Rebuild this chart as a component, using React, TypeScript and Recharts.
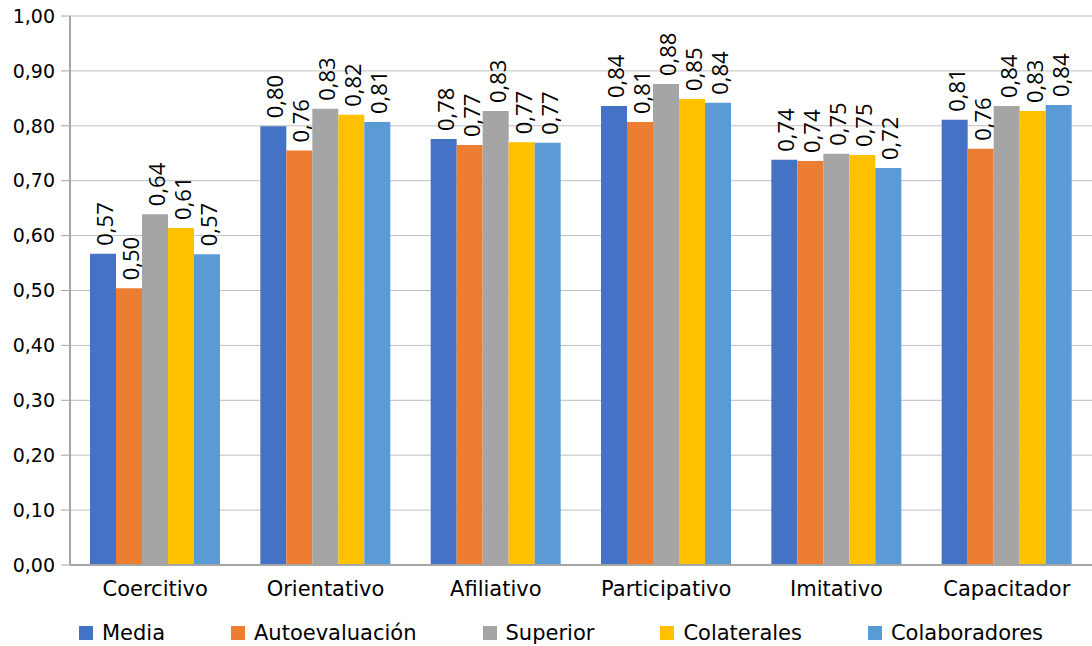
import React from 'react';
import { BarChart, Bar, XAxis, YAxis, CartesianGrid, Legend, LabelList } from 'recharts';

const categories = ['Coercitivo', 'Orientativo', 'Afiliativo', 'Participativo', 'Imitativo', 'Capacitador'];

const media = [0.567, 0.799, 0.776, 0.836, 0.738, 0.811];
const autoevaluacion = [0.504, 0.755, 0.765, 0.807, 0.736, 0.758];
const superior = [0.639, 0.831, 0.827, 0.876, 0.749, 0.836];
const colaterales = [0.614, 0.82, 0.77, 0.849, 0.747, 0.827];
const colaboradores = [0.566, 0.807, 0.769, 0.842, 0.723, 0.838];

const yTicks = [0, 0.1, 0.2, 0.3, 0.4, 0.5, 0.6, 0.7, 0.8, 0.9, 1];

const SERIES = [
  { key: 'media', name: 'Media', color: '#4472C4', values: media },
  { key: 'auto', name: 'Autoevaluación', color: '#ED7D31', values: autoevaluacion },
  { key: 'superior', name: 'Superior', color: '#A5A5A5', values: superior },
  { key: 'colaterales', name: 'Colaterales', color: '#FFC000', values: colaterales },
  { key: 'colaboradores', name: 'Colaboradores', color: '#5B9BD5', values: colaboradores },
];

const data = categories.map((cat, i) => {
  const row: Record<string, string | number> = { cat };
  SERIES.forEach((s) => {
    row[s.key] = s.values[i];
  });
  return row;
});

const AXIS_FONT = '"DejaVu Sans", Verdana, sans-serif';

const fmt = (v: number) => v.toFixed(2).replace('.', ',');

// vertical value label sitting just above each bar
function VerticalLabel(props: any) {
  const { x, y, width, value } = props;
  const cx = Number(x) + Number(width) / 2 + 1;
  const cy = Number(y) - 8;
  return (
    <text
      x={cx}
      y={cy}
      transform={`rotate(-90, ${cx}, ${cy})`}
      textAnchor="start"
      dominantBaseline="central"
      fontFamily='"Open Sans", sans-serif'
      fontSize={22}
      fill="#000"
    >
      {fmt(Number(value))}
    </text>
  );
}

function LegendContent() {
  return (
    <div
      style={{
        display: 'flex',
        justifyContent: 'center',
        gap: 66,
        paddingLeft: 30,
        paddingTop: 14,
        height: 26,
        fontFamily: AXIS_FONT,
        fontSize: 21,
        color: '#000',
      }}
    >
      {SERIES.map((s) => (
        <div key={s.key} style={{ display: 'flex', alignItems: 'center', whiteSpace: 'nowrap' }}>
          <span style={{ width: 14, height: 14, background: s.color, marginRight: 9, display: 'inline-block' }} />
          {s.name}
        </div>
      ))}
    </div>
  );
}

export default function App() {
  return (
    <div style={{ position: 'absolute', left: 0, top: 0, background: '#fff' }}>
      <BarChart
        width={1092}
        height={646}
        data={data}
        margin={{ top: 16, right: 0, left: 0, bottom: 0 }}
        barCategoryGap={20}
        barGap={0}
      >
        <CartesianGrid vertical={false} stroke="#BFBFBF" strokeWidth={1} />
        <XAxis
          dataKey="cat"
          height={41}
          tickLine={false}
          tickSize={0}
          tickMargin={16}
          axisLine={{ stroke: '#A6A6A6', strokeWidth: 2 }}
          tick={{ fontFamily: AXIS_FONT, fontSize: 21, fill: '#000' }}
          interval={0}
        />
        <YAxis
          width={70}
          domain={[0, 1]}
          ticks={yTicks}
          tickFormatter={fmt}
          tickSize={9}
          tickMargin={6}
          axisLine={{ stroke: '#A6A6A6', strokeWidth: 2 }}
          tickLine={{ stroke: '#A6A6A6' }}
          tick={{ fontFamily: AXIS_FONT, fontSize: 19, fill: '#000' }}
          allowDataOverflow
        />
        <Legend verticalAlign="bottom" height={40} content={<LegendContent />} />
        {SERIES.map((s) => (
          <Bar key={s.key} dataKey={s.key} name={s.name} fill={s.color} isAnimationActive={false}>
            <LabelList dataKey={s.key} content={<VerticalLabel />} />
          </Bar>
        ))}
      </BarChart>
    </div>
  );
}
